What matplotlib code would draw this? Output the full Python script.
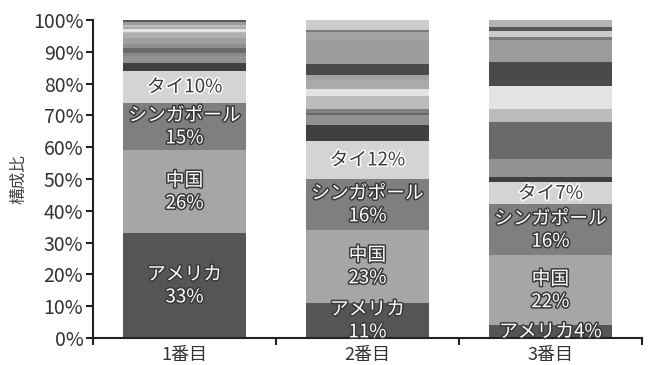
import matplotlib
matplotlib.use('Agg')
import matplotlib.pyplot as plt
import matplotlib.patheffects as pe
import numpy as np

plt.rcParams['font.family'] = ['Noto Sans CJK JP', 'DejaVu Sans']

groups = ['1番目', '2番目', '3番目']

# labelled countries (percent per group)
countries = ['アメリカ', '中国', 'シンガポール', 'タイ']
country_vals = [
    [33, 11, 4],
    [26, 23, 22],
    [15, 16, 16],
    [10, 12, 7],
]
country_colors = ['#555555', '#a6a6a6', '#7f7f7f', '#d4d4d4']

# remaining (unlabelled) countries, bottom to top
others_vals = [
    [2.4, 5.0, 1.5],
    [2.4, 3.0, 5.8],
    [0.7, 0.0, 0.0],
    [1.6, 0.7, 11.5],
    [0.0, 1.4, 0.0],
    [1.4, 0.0, 0.0],
    [1.9, 0.0, 0.0],
    [1.4, 0.0, 0.0],
    [0.5, 3.9, 4.2],
    [0.9, 2.2, 7.4],
    [0.7, 2.8, 0.0],
    [0.7, 0.0, 0.0],
    [0.0, 1.6, 0.0],
    [0.0, 3.7, 7.3],
    [0.7, 7.3, 7.1],
    [0.0, 2.6, 0.0],
    [0.0, 0.6, 1.0],
    [0.0, 3.2, 1.9],
    [0.7, 0.0, 1.2],
    [0.0, 0.0, 2.1],
]
others_colors = ['#404040', '#929292', '#8a8a8a', '#6a6a6a', '#808080',
                 '#909090', '#a0a0a0', '#b0b0b0', '#bcbcbc', '#e4e4e4',
                 '#aaaaaa', '#bcbcbc', '#a2a2a2', '#4a4a4a', '#9c9c9c',
                 '#a4a4a4', '#7a7a7a', '#cccccc', '#585858', '#b4b4b4']

# labels written on one line: (country index, group index)
one_line = {(3, 0), (3, 1), (3, 2), (0, 2)}

fig = plt.figure(figsize=(6.55, 3.65), dpi=100)
ax = fig.add_axes([0.142, 0.074, 0.838, 0.871])

x = np.arange(len(groups)) + 0.5
width = 0.67
bottom = np.zeros(len(groups))

for ci, name in enumerate(countries):
    vals = np.array(country_vals[ci], dtype=float)
    ax.bar(x, vals, width, bottom=bottom, color=country_colors[ci], linewidth=0)
    for gi in range(len(groups)):
        v = country_vals[ci][gi]
        if (ci, gi) in one_line:
            txt = f'{name}{v}%'
        else:
            txt = f'{name}\n{v}%'
        if ci == 3:
            fc, ec = '#3a3a3a', 'white'
        else:
            fc, ec = 'white', '#3a3a3a'
        ax.text(x[gi], bottom[gi] + v / 2, txt, ha='center', va='center',
                fontsize=13.5, color=fc, linespacing=1.1,
                path_effects=[pe.withStroke(linewidth=2.2, foreground=ec)])
    bottom += vals

for oi, vals in enumerate(others_vals):
    vals = np.array(vals, dtype=float)
    ax.bar(x, vals, width, bottom=bottom, color=others_colors[oi], linewidth=0)
    bottom += vals

ax.set_xlim(0, 3)
ax.set_ylim(0, 100)
ax.set_yticks(np.arange(0, 101, 10))
ax.set_yticklabels([f'{t}%' for t in range(0, 101, 10)])
ax.set_xticks([0, 1, 2, 3])
ax.set_xticks(x, minor=True)
ax.set_xticklabels([])
ax.set_xticklabels(groups, minor=True)
ax.tick_params(axis='x', which='minor', length=0, pad=6, labelsize=13, labelcolor='#333333')
ax.tick_params(axis='x', which='major', length=5, width=1.5, color='#222222')
ax.tick_params(axis='y', length=5, width=1.5, color='#222222', labelsize=14,
               labelcolor='#333333', pad=2)

for s in ['top', 'right']:
    ax.spines[s].set_visible(False)
for s in ['left', 'bottom']:
    ax.spines[s].set_linewidth(1.5)
    ax.spines[s].set_color('#222222')

ax.set_ylabel('構成比', fontsize=12, color='#444444', labelpad=4)

fig.savefig('out.png', dpi=100)
